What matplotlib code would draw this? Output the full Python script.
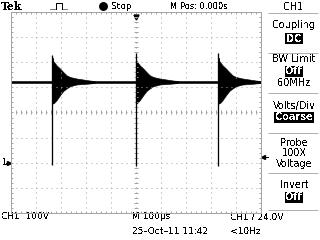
"""Tek scope screenshot: CH1 ringing pulses."""
import numpy as np
import matplotlib
matplotlib.use("Agg")
import matplotlib.pyplot as plt
from matplotlib.transforms import blended_transform_factory

# ---- scope settings ----
TIME_DIV = 100      # us/div
VOLT_DIV = 100      # V/div
CENTER_V = 200      # V at graticule centre (ground marker 2 div below)
TRIG_LEVEL = 24.0   # V

# ---- trace ----
pulse_t = [-333, 0, 331]          # us, time of each spike
spike_top = [428, 436, 436]       # V
spike_bot = [-10, -12, -14]       # V
base_v = 322                      # V, level between pulses
ring_dt = [1, 3, 7, 17, 31, 44, 57, 71, 97, 124, 150, 170]   # us after spike
ring_hi = [420, 408, 402, 389, 376, 362, 349, 342, 336, 332, 328, 326]
ring_lo = [236, 236, 238, 249, 269, 286, 296, 305, 312, 314, 316, 318]

# ---- screen texts ----
menu_title = "CH1"
menu_items = [("Coupling", 25.5), ("BW Limit", 59.5), ("60MHz", 83.5),
              ("Volts/Div", 105.5), ("Probe", 143), ("100X", 153.5),
              ("Voltage", 164), ("Invert", 185)]
menu_values = [("DC", 38.5), ("Off", 71.5), ("Coarse", 117.5), ("Off", 197.5)]
menu_lines = [13, 52.5, 92.5, 132.5, 172.5, 209.5]

GRID = "#a4a4a4"
FS = 6.5
FS_MENU = 7.0
PX = 72 / 100  # one pixel in points
plt.rcParams["text.antialiased"] = False

fig = plt.figure(figsize=(3.2, 2.4), dpi=100)

# overlay in screen pixels for texts / menu
scr = fig.add_axes([0, 0, 1, 1])
scr.set_xlim(0, 320); scr.set_ylim(240, 0); scr.axis("off")

# graticule
ax = fig.add_axes([10.5 / 320, 1 - 212.5 / 240, 250 / 320, 200 / 240])
ax.set_xlim(-5 * TIME_DIV, 5 * TIME_DIV)
ax.set_ylim(CENTER_V - 4 * VOLT_DIV, CENTER_V + 4 * VOLT_DIV)
ax.set_facecolor("none")
for s in ax.spines.values():
    s.set_color(GRID); s.set_linewidth(PX)
ax.set_xticks(np.arange(-500, 501, 100)); ax.set_yticks(np.arange(-200, 601, 100))
ax.set_xticks(np.arange(-500, 501, 20), minor=True)
ax.set_yticks(np.arange(-200, 601, 20), minor=True)
ax.tick_params(which="both", direction="in", length=2 * PX, width=PX, color=GRID,
               top=True, right=True, labelbottom=False, labelleft=False)
ax.grid(which="major", color=GRID, linewidth=PX, linestyle=(0, (1, 4)))
# centre cross with small ticks
cx = np.arange(-500, 501, 20); cy = np.arange(-200, 601, 20)
ax.plot(cx, np.full(cx.size, CENTER_V), ls="none", marker="|", ms=4 * PX,
        mew=PX, color=GRID)
ax.plot(np.zeros(cy.size), cy, ls="none", marker="_", ms=4 * PX, mew=PX, color=GRID)

# waveform
ax.plot([-500, 500], [base_v, base_v], color="black", lw=2.6 * PX,
        solid_capstyle="butt")
for t0, hi, lo in zip(pulse_t, spike_top, spike_bot):
    tt = [t0 + d for d in ring_dt]
    ax.fill_between(tt, ring_lo, ring_hi, color="black", lw=0.6 * PX)
    ax.vlines(t0, lo, hi, color="black", lw=1.3 * PX)

# ground marker, trigger level and trigger position
tr = blended_transform_factory(fig.transFigure, ax.transData)
fig.text(1.5 / 320, 0, "1", transform=tr, fontsize=FS, va="center", ha="left")
ax.plot([6 / 320, 9 / 320], [0, 0], transform=tr, color="black", lw=PX, clip_on=False)
ax.plot([9 / 320], [0], transform=tr, marker=">", ms=4 * PX, color="black",
        clip_on=False)
ax.plot([265.5 / 320, 268 / 320], [TRIG_LEVEL, TRIG_LEVEL], transform=tr,
        color="black", lw=PX, clip_on=False)
ax.plot([263 / 320], [TRIG_LEVEL], transform=tr, marker="<", ms=4 * PX,
        color="black", clip_on=False)
tr2 = blended_transform_factory(ax.transData, scr.transData)
scr.plot([0, 0], [13, 16], transform=tr2, color="black", lw=PX)
scr.plot([0], [17], transform=tr2, marker="v", ms=5 * PX, color="black")

# top status line
scr.text(1, 6.5, "Tek", fontsize=7.8, fontweight="bold", family="DejaVu Serif",
         va="center", ha="left")
scr.plot([50, 56], [8.5, 8.5], color="black", lw=PX, ls=(0, (1, 1)))
scr.plot([56, 56, 62, 62], [8.5, 2.5, 2.5, 8.5], color="black", lw=PX)
scr.plot([62, 67], [8.5, 8.5], color="black", lw=PX, ls=(0, (1, 1)))
scr.plot([103], [6], marker="o", ms=7.5 * PX, color="black")
scr.text(111, 6.5, "Stop", fontsize=FS, va="center", ha="left")
scr.text(170, 6.5, "M Pos: 0.000s", fontsize=6.0, va="center", ha="left")

# side menu
scr.text(294, 6.5, menu_title, fontsize=FS_MENU, va="center", ha="center")
scr.hlines(menu_lines, 268, 318, color="#b0b0b0", lw=PX)
for s, y in menu_items:
    scr.text(294, y, s, fontsize=FS_MENU, va="center", ha="center")
for s, y in menu_values:
    scr.text(294, y, s, fontsize=FS_MENU, va="center", ha="center", color="white",
             fontweight="bold",
             bbox=dict(boxstyle="square,pad=0.1", fc="black", ec="none"))

# bottom readouts
scr.text(1, 216.5, "CH1  100V", fontsize=FS, va="center", ha="left")
scr.text(132, 216.5, "M 100\u00b5s", fontsize=FS, va="center", ha="left")
scr.text(230, 216.5, "CH1 \u2215 24.0V", fontsize=FS, va="center", ha="left")
scr.text(132, 231.5, "25\u2013Oct\u201311 11:42", fontsize=FS, va="center", ha="left")
scr.text(230, 231.5, "<10Hz", fontsize=FS, va="center", ha="left")

fig.savefig("out.png", dpi=100)
